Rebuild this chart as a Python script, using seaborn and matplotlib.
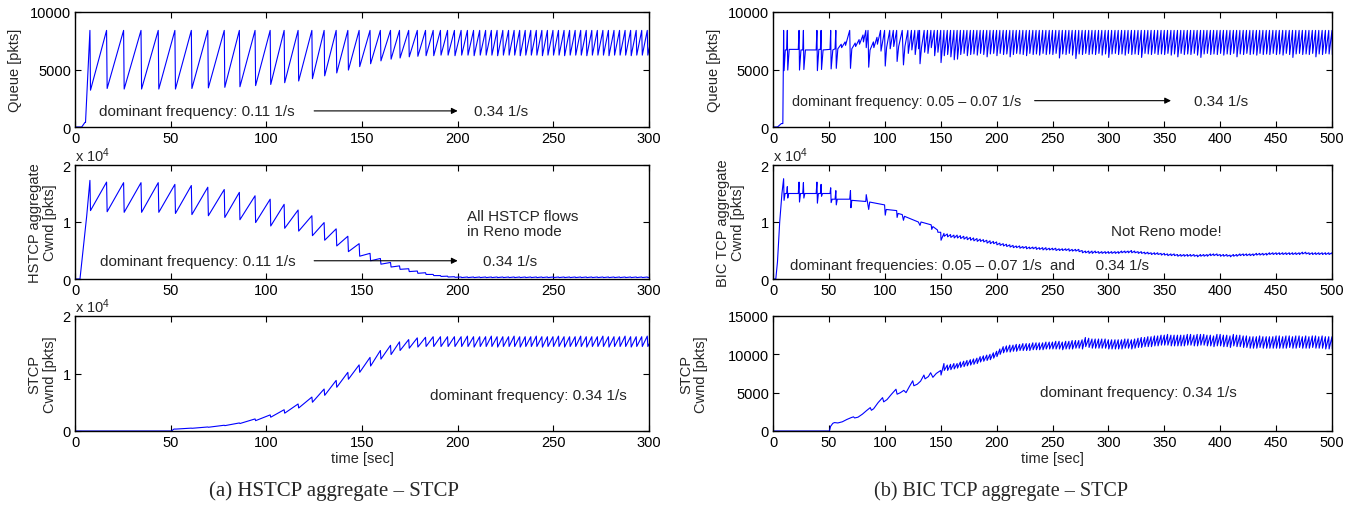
import matplotlib
matplotlib.use("Agg")
import matplotlib.pyplot as plt
import pandas as pd
import seaborn as sns

# ------------------------------------------------------------------ data
QUEUE_CAP = 8400  # every queue tooth peaks at the buffer limit [pkts]

# ---- (a) HSTCP aggregate - STCP : loss (drop) instants [sec]
hs_drop_t = [7.8, 16.5, 25.4, 34.5, 43.5, 52.2, 60.8, 69.4, 78.0, 85.9,
             94.1, 102.0, 109.3, 116.6, 123.8, 130.2, 136.5, 142.6, 148.5, 154.2,
             159.6, 164.9, 169.6, 174.4, 178.9, 183.2, 187.2, 191.0, 194.7, 198.3,
             201.8, 205.1, 208.3, 211.5, 214.6, 217.6, 220.6, 223.6, 226.6, 229.5,
             232.4, 235.3, 238.2, 241.1, 244.0, 246.9, 249.8, 252.7, 255.6, 258.5,
             261.4, 264.3, 267.2, 270.1, 273.0, 275.9, 278.8, 281.7, 284.6, 287.5,
             290.4, 293.3, 296.2, 299.1, 302.0]
hs_queue_trough = [3200, 3350, 3300, 3300, 3300, 3300, 3350, 3400, 3450, 3500,
                   3600, 3700, 3850, 4000, 4200, 4450, 4700, 4950, 5250, 5500,
                   5750, 5900, 6000, 6100, 6150, 6200, 6200, 6250, 6250, 6200,
                   6250, 6250, 6200, 6250, 6250, 6250, 6200, 6250, 6250, 6250,
                   6200, 6250, 6250, 6250, 6200, 6250, 6250, 6250, 6200, 6250,
                   6250, 6250, 6200, 6250, 6250, 6250, 6200, 6250, 6250, 6250,
                   6200, 6250, 6250, 6250, 6250]
hs_queue_start_t = [0.0, 3.5, 5.2, 5.5]
hs_queue_start_v = [0, 0, 400, 400]

hs_cwnd_peak = [1.73, 1.70, 1.69, 1.69, 1.69, 1.66, 1.64, 1.61, 1.57, 1.52,
                1.46, 1.40, 1.31, 1.21, 1.11, 0.99, 0.88, 0.75, 0.62, 0.45,
                0.36, 0.29, 0.23, 0.18, 0.14, 0.11, 0.08, 0.06, 0.05, 0.04,
                0.035, 0.035, 0.035, 0.035, 0.035, 0.035, 0.035, 0.035, 0.035, 0.035,
                0.035, 0.035, 0.035, 0.035, 0.035, 0.035, 0.035, 0.035, 0.035, 0.035,
                0.035, 0.035, 0.035, 0.035, 0.035, 0.035, 0.035, 0.035, 0.035, 0.035,
                0.035, 0.035, 0.035, 0.035, 0.035]
hs_cwnd_trough = [1.20, 1.18, 1.17, 1.17, 1.17, 1.15, 1.13, 1.11, 1.08, 1.04,
                  0.99, 0.93, 0.89, 0.84, 0.76, 0.68, 0.58, 0.48, 0.40, 0.32,
                  0.26, 0.21, 0.17, 0.13, 0.10, 0.08, 0.06, 0.045, 0.035, 0.03,
                  0.025, 0.025, 0.025, 0.025, 0.025, 0.025, 0.025, 0.025, 0.025, 0.025,
                  0.025, 0.025, 0.025, 0.025, 0.025, 0.025, 0.025, 0.025, 0.025, 0.025,
                  0.025, 0.025, 0.025, 0.025, 0.025, 0.025, 0.025, 0.025, 0.025, 0.025,
                  0.025, 0.025, 0.025, 0.025, 0.025]
hs_cwnd_start_t = [0.0, 2.6, 6.1]
hs_cwnd_start_v = [0.0, 0.0, 1.10]

hs_stcp_peak = [0, 0, 0, 0, 0, 0.035, 0.05, 0.07, 0.10, 0.14,
                0.21, 0.28, 0.37, 0.47, 0.59, 0.73, 0.88, 1.02, 1.15, 1.28,
                1.40, 1.49, 1.55, 1.59, 1.62, 1.63, 1.64, 1.64, 1.64, 1.64,
                1.64, 1.65, 1.64, 1.64, 1.64, 1.65, 1.64, 1.64, 1.64, 1.65,
                1.64, 1.64, 1.64, 1.65, 1.64, 1.64, 1.64, 1.65, 1.64, 1.64,
                1.64, 1.65, 1.64, 1.64, 1.64, 1.65, 1.64, 1.64, 1.64, 1.65,
                1.64, 1.64, 1.64, 1.65, 1.64]
hs_stcp_trough = [0, 0, 0, 0, 0, 0.033, 0.047, 0.065, 0.093, 0.13,
                  0.18, 0.24, 0.31, 0.40, 0.50, 0.62, 0.76, 0.90, 1.02, 1.13,
                  1.25, 1.33, 1.40, 1.44, 1.46, 1.47, 1.47, 1.47, 1.47, 1.47,
                  1.47, 1.47, 1.46, 1.47, 1.47, 1.47, 1.46, 1.47, 1.47, 1.47,
                  1.46, 1.47, 1.47, 1.47, 1.46, 1.47, 1.47, 1.47, 1.46, 1.47,
                  1.47, 1.47, 1.46, 1.47, 1.47, 1.47, 1.46, 1.47, 1.47, 1.47,
                  1.46, 1.47, 1.47, 1.47, 1.47]
hs_stcp_start_t = [0.0, 50.5, 51.5]
hs_stcp_start_v = [0.0, 0.0, 0.03]

# ---- (b) BIC TCP aggregate - STCP : early phase as read vertices (t < 150 s)
bic_queue_start_t = [0, 4.0, 7.5, 8.8, 9.5, 9.9, 11, 12.2, 12.8, 13.2, 14.5, 22.6, 23.3, 23.7,
                     25, 26.6, 27.2, 27.6, 29, 38.6, 39.3, 39.7, 41, 42.4, 43, 43.4, 44.8,
                     51, 51.6, 52, 53.5, 55.5, 56.2, 56.6, 58, 61, 61.4, 64.5, 64.9, 68.6,
                     69.3, 70.5, 73.5, 73.9, 77, 77.4, 80.5, 80.9, 83, 83.4, 85, 85.6, 86.8,
                     89.8, 90.2, 93, 93.4, 96.2, 96.6, 99.8, 100.4, 101.6, 104.4, 104.8,
                     107.6, 108, 110.6, 111, 112.4, 115.6, 116.7, 118, 120.6, 121, 123.8,
                     124.2, 126.8, 127.2, 129.8, 130.2, 131.1, 131.5, 132.8, 135.2, 135.6,
                     138.2, 138.6, 141.2, 141.6, 144.2, 144.6, 147.1, 147.5]
bic_queue_start_v = [0, 0, 300, 300, 8400, 4900, 6700, 6700, 8400, 4950, 6750, 6750, 8400, 4950,
                     6700, 6700, 8400, 5000, 6700, 6700, 8400, 4900, 6750, 6750, 8400, 5000, 6700,
                     6750, 8400, 5050, 6700, 6800, 8400, 5100, 6800, 7200, 6900, 7400, 7100, 8400,
                     5100, 6800, 7300, 7000, 7600, 7200, 8000, 7400, 8400, 6900, 8400, 5200, 6700,
                     7400, 6900, 7800, 7200, 8400, 6600, 8400, 5300, 6900, 8400, 6800,
                     8400, 7000, 8400, 5700, 7000, 8400, 5400, 7000, 8400, 6400, 8400,
                     6700, 8400, 6300, 8400, 6800, 8400, 5500, 6900, 8400, 6500,
                     8400, 6400, 8400, 6900, 8400, 6200, 8400, 6500]

bic_cwnd_start_t = [0, 2.5, 4, 6, 8, 9.5, 9.9, 10.8, 12.2, 12.8, 13.2, 14, 22.6, 23.3, 23.7,
                    24.6, 26.6, 27.2, 27.6, 28.5, 38.6, 39.3, 39.7, 40.6, 42.4, 43, 43.4, 44.3,
                    51, 51.6, 52, 52.9, 55.5, 56.2, 56.6, 57.5, 68.6, 69.3, 69.7, 70.5, 83,
                    83.4, 85.6, 86.5, 99.8, 100.4, 101.3, 110.6, 111, 111.9, 115.6, 116.7,
                    117.6, 130, 131.5, 132.4, 141.5, 142, 143, 147.1, 147.5, 149.5]
bic_cwnd_start_v = [0, 0, 0.3, 1.0, 1.5, 1.76, 1.38, 1.5, 1.5, 1.62, 1.42, 1.5, 1.5, 1.70, 1.35,
                    1.5, 1.5, 1.69, 1.42, 1.5, 1.5, 1.70, 1.33, 1.5, 1.5, 1.66, 1.45, 1.5,
                    1.5, 1.6, 1.34, 1.4, 1.4, 1.55, 1.3, 1.4, 1.4, 1.55, 1.25, 1.38, 1.36,
                    1.48, 1.22, 1.35, 1.3, 1.12, 1.22, 1.2, 1.08, 1.15, 1.13, 1.03,
                    1.1, 1.0, 0.94, 1.0, 0.95, 0.87, 0.92, 0.86, 0.82, 0.82]

bic_stcp_start_t = [0, 50.5, 51.5, 53.5, 55, 58, 62, 66, 70, 72, 73, 76, 80, 84, 87, 88, 90,
                    94, 98, 99, 102, 106, 110, 111, 114, 117, 119, 122, 125, 126, 129, 132,
                    135, 136, 139, 141, 143, 146, 148]
bic_stcp_start_v = [0, 0, 600, 1000, 1100, 1050, 1200, 1500, 1750, 1850, 1700, 1800, 2200,
                    2700, 3050, 2700, 2900, 3700, 4350, 3800, 4100, 4800, 5450, 4800, 5000,
                    5300, 5000, 5800, 6550, 5900, 6100, 6500, 7300, 6800, 7100, 7600, 7000,
                    7500, 7700]

# ---- (b) steady phase: loss instants [sec]
bic_drop_t = [150.0, 152.9, 155.9, 158.8, 161.8, 164.7, 167.6, 170.6, 173.5, 176.5, 179.4, 182.4, 185.3, 188.2, 191.2, 194.1, 197.1,
              200.0, 202.9, 205.9, 208.8, 211.8, 214.7, 217.6, 220.6, 223.5, 226.5, 229.4, 232.4, 235.3, 238.2, 241.2, 244.1, 247.1,
              250.0, 252.9, 255.9, 258.8, 261.8, 264.7, 267.6, 270.6, 273.5, 276.5, 279.4, 282.4, 285.3, 288.2, 291.2, 294.1, 297.1,
              300.0, 302.9, 305.9, 308.8, 311.8, 314.7, 317.6, 320.6, 323.5, 326.5, 329.4, 332.4, 335.3, 338.2, 341.2, 344.1, 347.1,
              350.0, 352.9, 355.9, 358.8, 361.8, 364.7, 367.6, 370.6, 373.5, 376.5, 379.4, 382.4, 385.3, 388.2, 391.2, 394.1, 397.1,
              400.0, 402.9, 405.9, 408.8, 411.8, 414.7, 417.6, 420.6, 423.5, 426.5, 429.4, 432.4, 435.3, 438.2, 441.2, 444.1, 447.1,
              450.0, 452.9, 455.9, 458.8, 461.8, 464.7, 467.6, 470.6, 473.5, 476.5, 479.4, 482.4, 485.3, 488.2, 491.2, 494.1, 497.1,
              500.0, 502.9]
bic_queue_trough = [5600, 6200, 6300, 6100, 5850, 5900, 6300, 6400, 6200, 6300, 6350, 6250, 6400, 6300, 6100, 6350, 6400,
                    6200, 6400, 6300, 6350, 6100, 6300, 6400, 6350, 6300, 6200, 6400, 6300, 6350, 6250, 6400, 6300, 6350,
                    6300, 6400, 6000, 6350, 6300, 6400, 6250, 5950, 6350, 6300, 6400, 6300, 6350, 6300, 6400, 6250, 6350,
                    6050, 6350, 6400, 6300, 6350, 6250, 6400, 6300, 6350, 6300, 6050, 6400, 6350, 6300, 6400, 6300, 6350,
                    6300, 6400, 6250, 6350, 6100, 6400, 6300, 6350, 6300, 6400, 6250, 6050, 6350, 6400, 6300, 6350, 6300,
                    6400, 6250, 6350, 6300, 6400, 6100, 6350, 6300, 6400, 6300, 6350, 6250, 6400, 6300, 6350, 6300, 6400,
                    6300, 6350, 6250, 6400, 6300, 6050, 6350, 6400, 6300, 6350, 6300, 6400, 6100, 6350, 6300, 6400, 6350,
                    6300, 6300]
bic_cwnd_peak = [0.82, 0.80, 0.79, 0.78, 0.77, 0.77, 0.76, 0.75, 0.74, 0.73, 0.72, 0.71, 0.70, 0.69, 0.68, 0.67, 0.66,
                 0.65, 0.63, 0.62, 0.61, 0.60, 0.59, 0.58, 0.58, 0.57, 0.57, 0.56, 0.56, 0.56, 0.55, 0.55, 0.55, 0.54,
                 0.54, 0.54, 0.53, 0.53, 0.53, 0.53, 0.52, 0.52, 0.52, 0.50, 0.49, 0.49, 0.49, 0.49, 0.48, 0.48, 0.48,
                 0.48, 0.48, 0.48, 0.48, 0.49, 0.49, 0.49, 0.50, 0.49, 0.48, 0.48, 0.47, 0.47, 0.46, 0.46, 0.46, 0.45,
                 0.45, 0.44, 0.44, 0.44, 0.43, 0.43, 0.43, 0.43, 0.43, 0.43, 0.42, 0.43, 0.43, 0.43, 0.44, 0.44, 0.44,
                 0.43, 0.43, 0.43, 0.42, 0.43, 0.43, 0.44, 0.44, 0.44, 0.44, 0.44, 0.45, 0.45, 0.45, 0.45, 0.46, 0.46,
                 0.46, 0.46, 0.46, 0.46, 0.46, 0.46, 0.46, 0.46, 0.47, 0.47, 0.46, 0.46, 0.46, 0.46, 0.46, 0.46, 0.46,
                 0.46, 0.46]
bic_cwnd_trough = [0.68, 0.75, 0.74, 0.73, 0.72, 0.72, 0.71, 0.70, 0.69, 0.68, 0.67, 0.66, 0.66, 0.65, 0.63, 0.62, 0.62,
                   0.60, 0.59, 0.58, 0.57, 0.56, 0.55, 0.55, 0.54, 0.54, 0.53, 0.53, 0.53, 0.52, 0.52, 0.51, 0.51, 0.51,
                   0.51, 0.50, 0.50, 0.50, 0.50, 0.49, 0.49, 0.49, 0.48, 0.46, 0.46, 0.45, 0.45, 0.46, 0.45, 0.45, 0.45,
                   0.45, 0.45, 0.45, 0.45, 0.46, 0.46, 0.46, 0.46, 0.46, 0.45, 0.45, 0.44, 0.44, 0.43, 0.43, 0.43, 0.42,
                   0.42, 0.41, 0.41, 0.41, 0.40, 0.40, 0.40, 0.40, 0.40, 0.40, 0.39, 0.40, 0.40, 0.40, 0.41, 0.41, 0.41,
                   0.40, 0.40, 0.40, 0.39, 0.40, 0.40, 0.41, 0.41, 0.41, 0.41, 0.41, 0.42, 0.42, 0.42, 0.42, 0.43, 0.43,
                   0.43, 0.43, 0.43, 0.43, 0.43, 0.43, 0.43, 0.43, 0.44, 0.44, 0.43, 0.43, 0.43, 0.43, 0.43, 0.43, 0.43,
                   0.43, 0.43]
bic_stcp_peak = [7900, 8800, 8600, 8700, 8800, 8800, 9000, 9100, 9200, 9300, 9400, 9500, 9700, 9800, 9900, 10000, 10200,
                 10400, 10700, 11000, 11100, 11200, 11200, 11300, 11300, 11400, 11400, 11400, 11500, 11500, 11500, 11500, 11600, 11600,
                 11600, 11700, 11700, 11600, 11700, 11700, 11800, 11800, 11800, 11900, 12200, 12100, 12000, 12000, 12000, 12000, 12000,
                 11900, 11900, 11900, 11900, 11900, 12000, 12000, 11900, 12000, 12100, 12200, 12200, 12300, 12300, 12400, 12400, 12500,
                 12500, 12600, 12500, 12500, 12500, 12500, 12500, 12600, 12600, 12500, 12600, 12600, 12600, 12500, 12500, 12400, 12600,
                 12600, 12500, 12500, 12400, 12600, 12500, 12500, 12400, 12400, 12300, 12300, 12300, 12400, 12300, 12300, 12300, 12300,
                 12400, 12400, 12300, 12400, 12400, 12300, 12400, 12400, 12300, 12400, 12300, 12400, 12400, 12300, 12400, 12300, 12300,
                 12300, 12300]
bic_stcp_trough = [7300, 7900, 7900, 8000, 8100, 8200, 8300, 8400, 8500, 8600, 8700, 8800, 9000, 9100, 9200, 9300, 9500,
                   9700, 10000, 10200, 10300, 10300, 10400, 10400, 10500, 10500, 10500, 10500, 10600, 10600, 10600, 10600, 10700, 10700,
                   10700, 10700, 10700, 10600, 10700, 10700, 10700, 10800, 10800, 10700, 11000, 10900, 10800, 10800, 10800, 10800, 10800,
                   10700, 10700, 10700, 10700, 10700, 10800, 10800, 10700, 10800, 10900, 10900, 11000, 11000, 11000, 11100, 11100, 11200,
                   11200, 11200, 11100, 11100, 11100, 11100, 11100, 11200, 11200, 11100, 11100, 11200, 11200, 11100, 11100, 11000, 11100,
                   11100, 11000, 11000, 10900, 11100, 11000, 11000, 10900, 10900, 10800, 10800, 10800, 10900, 10800, 10800, 10800, 10800,
                   10800, 10800, 10800, 10800, 10900, 10800, 10800, 10900, 10800, 10800, 10800, 10900, 10800, 10800, 10800, 10700, 10700,
                   10700, 10700]

# ------------------------------------------------------------------ helpers
def series(start_t, start_v, drop_t, peaks, troughs, fall=0.3):
    """Polyline through read vertices: start vertices, then peak/trough at each loss."""
    t = list(start_t)
    v = list(start_v)
    for ti, p, tr in zip(drop_t, peaks, troughs):
        t += [ti, ti + fall]
        v += [p, tr]
    df = pd.DataFrame({"t": t, "v": v}).sort_values("t", kind="stable")
    return df

cap_hs = [QUEUE_CAP for _ in hs_drop_t]
cap_bic = [QUEUE_CAP for _ in bic_drop_t]

panels = {
    ("a", 0): series(hs_queue_start_t, hs_queue_start_v, hs_drop_t, cap_hs, hs_queue_trough),
    ("a", 1): series(hs_cwnd_start_t, hs_cwnd_start_v, hs_drop_t, hs_cwnd_peak, hs_cwnd_trough),
    ("a", 2): series(hs_stcp_start_t, hs_stcp_start_v, hs_drop_t, hs_stcp_peak, hs_stcp_trough),
    ("b", 0): series(bic_queue_start_t, bic_queue_start_v, bic_drop_t, cap_bic, bic_queue_trough),
    ("b", 1): series(bic_cwnd_start_t, bic_cwnd_start_v, bic_drop_t, bic_cwnd_peak, bic_cwnd_trough),
    ("b", 2): series(bic_stcp_start_t, bic_stcp_start_v, bic_drop_t, bic_stcp_peak, bic_stcp_trough),
}

# ------------------------------------------------------------------ style
sns.set_theme(style="ticks")
plt.rcParams["font.family"] = ["Liberation Sans", "DejaVu Sans"]
plt.rcParams["mathtext.fontset"] = "custom"
plt.rcParams["mathtext.rm"] = "Liberation Sans"
plt.rcParams["mathtext.it"] = "Liberation Sans"
FS = 10.5      # ticks / axis labels
FA = 11        # annotations

fig = plt.figure(figsize=(13.62, 5.06), dpi=100)
W, H = 1362.0, 506.0
col_x = {"a": (75, 574), "b": (773, 559)}
row_y = [(13, 115), (166, 114), (317, 115)]

xlims = {"a": 300, "b": 500}
ylims = {0: (0, 10000, [0, 5000, 10000]),
         1: (0, 2, [0, 1, 2]),
         2: (0, 2, [0, 1, 2])}
ylabels = {("a", 0): "Queue [pkts]", ("a", 1): "HSTCP aggregate\nCwnd [pkts]",
           ("a", 2): "STCP\nCwnd [pkts]", ("b", 0): "Queue [pkts]",
           ("b", 1): "BIC TCP aggregate\nCwnd [pkts]", ("b", 2): "STCP\nCwnd [pkts]"}
ylab_x = {("a", 0): -0.092, ("a", 1): -0.032, ("a", 2): -0.032,
          ("b", 0): -0.093, ("b", 1): -0.05, ("b", 2): -0.116}

axes = {}
for col in ("a", "b"):
    x0, w = col_x[col]
    for r in range(3):
        y0, h = row_y[r]
        ax = fig.add_axes([x0 / W, 1 - (y0 + h) / H, w / W, h / H])
        axes[(col, r)] = ax
        df = panels[(col, r)]
        sns.lineplot(data=df, x="t", y="v", ax=ax, color="#0000ff", lw=0.8,
                     estimator=None, sort=False)
        ax.set_xlim(0, xlims[col])
        ax.set_xticks(range(0, xlims[col] + 1, 50))
        if col == "b" and r == 2:
            ax.set_ylim(0, 15000)
            ax.set_yticks([0, 5000, 10000, 15000])
        else:
            lo, hi, tk = ylims[r]
            ax.set_ylim(lo, hi)
            ax.set_yticks(tk)
        ax.set_yticklabels([str(v) for v in ax.get_yticks().astype(int)])
        ax.tick_params(direction="in", top=True, right=True, length=4, width=0.8,
                       labelsize=FS, pad=3, colors="black")
        for s in ax.spines.values():
            s.set_color("black")
            s.set_linewidth(1.0)
            s.set_visible(True)
        ax.set_ylabel(ylabels[(col, r)], fontsize=FS, linespacing=1.1)
        ax.yaxis.set_label_coords(ylab_x[(col, r)], 0.5)
        if r == 2:
            ax.set_xlabel("time [sec]", fontsize=FS)
            ax.xaxis.set_label_coords(0.5, -0.17)
        else:
            ax.set_xlabel("")
        if r in (1, 2) and not (col == "b" and r == 2):
            ax.text(0.0, 1.01, r"x 10$^4$", transform=ax.transAxes, ha="left",
                    va="bottom", fontsize=FS)

arrow = dict(arrowstyle="-|>", color="black", lw=0.8, mutation_scale=9,
             shrinkA=0, shrinkB=0)

ax = axes[("a", 0)]
ax.text(12.5, 1400, "dominant frequency: 0.11 1/s", fontsize=FA, va="center")
ax.annotate("", xy=(200, 1400), xytext=(125, 1400), arrowprops=arrow)
ax.text(208.5, 1400, "0.34 1/s", fontsize=FA, va="center")

ax = axes[("a", 1)]
ax.text(13.2, 0.32, "dominant frequency: 0.11 1/s", fontsize=FA, va="center")
ax.annotate("", xy=(200, 0.32), xytext=(125, 0.32), arrowprops=arrow)
ax.text(213, 0.32, "0.34 1/s", fontsize=FA, va="center")
ax.text(205, 1.11, "All HSTCP flows", fontsize=FA, va="center")
ax.text(205, 0.85, "in Reno mode", fontsize=FA, va="center")

ax = axes[("a", 2)]
ax.text(185.7, 0.626, "dominant frequency: 0.34 1/s", fontsize=FA, va="center")

ax = axes[("b", 0)]
ax.text(17.0, 2290, "dominant frequency: 0.05 – 0.07 1/s", fontsize=10.4, va="center")
ax.annotate("", xy=(356, 2290), xytext=(234, 2290), arrowprops=arrow)
ax.text(376.7, 2290, "0.34 1/s", fontsize=FA, va="center")

ax = axes[("b", 1)]
ax.text(302.7, 0.847, "Not Reno mode!", fontsize=FA, va="center")
ax.text(14.8, 0.246, "dominant frequencies: 0.05 – 0.07 1/s  and     0.34 1/s",
        fontsize=10.8, va="center")

ax = axes[("b", 2)]
ax.text(238.9, 5126, "dominant frequency: 0.34 1/s", fontsize=FA, va="center")

fig.text(334 / W, 1 - 491 / H, "(a) HSTCP aggregate – STCP", ha="center", va="center",
         family="Liberation Serif", fontsize=15)
fig.text(1001 / W, 1 - 491 / H, "(b) BIC TCP aggregate – STCP", ha="center", va="center",
         family="Liberation Serif", fontsize=14.5)

fig.savefig("out.png", dpi=100, facecolor="white")
